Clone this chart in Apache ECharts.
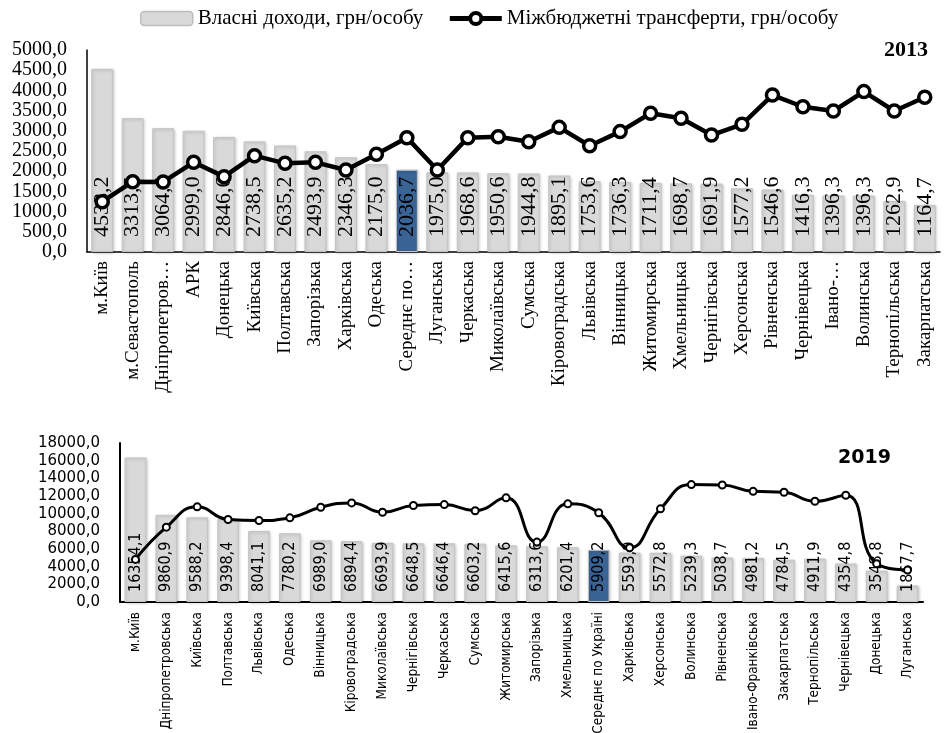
<!DOCTYPE html>
<html>
<head>
<meta charset="utf-8">
<script src="https://cdn.jsdelivr.net/npm/echarts@6/dist/echarts.min.js"></script>
<style>
html,body{margin:0;padding:0;background:#fff;}
#chart{width:945px;height:733px;}
</style>
</head>
<body>
<div id="chart"></div>
<script>
var seriesNames = ['Власні доходи, грн/особу', 'Міжбюджетні трансферти, грн/особу'];

var cats2013 = ['м.Київ','м.Севастополь','Дніпропетров…','АРК','Донецька','Київська','Полтавська','Запорізька','Харківська','Одеська','Середнє по…','Луганська','Черкаська','Миколаївська','Сумська','Кіровоградська','Львівська','Вінницька','Житомирська','Хмельницька','Чернігівська','Херсонська','Рівненська','Чернівецька','Івано-…','Волинська','Тернопільська','Закарпатська'];
var own2013 = [4533.2,3313.5,3064.4,2999.0,2846.6,2738.5,2635.2,2493.9,2346.3,2175.0,2036.7,1975.0,1968.6,1950.6,1944.8,1895.1,1753.6,1736.3,1711.4,1698.7,1691.9,1577.2,1546.6,1416.3,1396.3,1396.3,1262.9,1164.7];
var transfers2013 = [1245,1740,1735,2220,1865,2385,2195,2220,2030,2420,2830,2030,2830,2855,2730,3085,2630,2980,3435,3310,2895,3160,3885,3595,3490,3970,3490,3830];

var cats2019 = ['м.Київ','Дніпропетровська','Київська','Полтавська','Львівська','Одеська','Вінницька','Кіровоградська','Миколаївська','Чернігівська','Черкаська','Сумська','Житомирська','Запорізька','Хмельницька','Середнє по Україні','Харківська','Херсонська','Волинська','Рівненська','Івано-Франківська','Закарпатська','Тернопільська','Чернівецька','Донецька','Луганська'];
var own2019 = [16354.1,9860.9,9588.2,9398.4,8041.1,7780.2,6989.0,6894.4,6693.9,6648.5,6646.4,6603.2,6415.6,6313.6,6201.4,5909.2,5593.9,5572.8,5239.3,5038.7,4981.2,4784.5,4911.9,4354.8,3548.8,1867.7];
var transfers2019 = [4820,8470,10770,9340,9230,9530,10730,11220,10160,10920,11030,10330,11790,6780,11110,10100,6140,10550,13290,13250,12530,12420,11400,12080,4340,3610];

var avgPrefix = 'Середнє';
var years = ['2013', '2019'];

function fmt(v){ return Number(v).toFixed(1).replace('.', ','); }
function barColor(cats){
  return function(p){ return cats[p.dataIndex].indexOf(avgPrefix) === 0 ? '#3a6496' : '#d9d9d9'; };
}

var serif = "'Liberation Serif','Times New Roman',serif";
var narrow = "'Liberation Sans Narrow','DejaVu Sans Condensed',sans-serif";
var sans = "'DejaVu Sans',Verdana,sans-serif";

var chart = echarts.init(document.getElementById('chart'));
chart.setOption({
  animation: false,
  backgroundColor: '#fff',
  legend: {
    top: 3, left: 135,
    itemWidth: 52, itemHeight: 14, itemGap: 24,
    textStyle: { fontFamily: serif, fontSize: 21, color: '#000' },
    data: [
      { name: seriesNames[0], itemStyle: { color: '#d9d9d9', borderColor: '#bdbdbd', borderWidth: 1.5 } },
      { name: seriesNames[1], itemStyle: { color: '#fff', borderColor: '#000', borderWidth: 4 }, lineStyle: { color: '#000', width: 5 } }
    ]
  },
  title: [
    { text: years[0], right: 12, top: 34, textStyle: { fontFamily: serif, fontSize: 22, fontWeight: 'bold', color: '#000' } },
    { text: years[1], left: 833, top: 444, textStyle: { fontFamily: sans, fontSize: 19, fontWeight: 'bold', color: '#000' } }
  ],
  grid: [
    { left: 87, top: 50, width: 853, height: 202, containLabel: false, outerBoundsMode: 'none' },
    { left: 120, top: 443, width: 803, height: 159, containLabel: false, outerBoundsMode: 'none' }
  ],
  xAxis: [
    { type: 'category', gridIndex: 0, data: cats2013,
      axisLine: { lineStyle: { color: '#000', width: 1.5 } }, axisTick: { show: false },
      axisLabel: { rotate: 90, interval: 0, margin: 9, color: '#000', fontFamily: serif, fontSize: 19 } },
    { type: 'category', gridIndex: 1, data: cats2019,
      axisLine: { lineStyle: { color: '#000', width: 2 } }, axisTick: { show: false },
      axisLabel: { rotate: 90, interval: 0, margin: 10, color: '#000', fontFamily: narrow, fontSize: 13.5 } }
  ],
  yAxis: [
    { type: 'value', gridIndex: 0, min: 0, max: 5000, interval: 500,
      axisLine: { show: true, lineStyle: { color: '#000', width: 1.5 } }, axisTick: { show: false },
      splitLine: { show: false },
      axisLabel: { formatter: fmt, margin: 20, color: '#000', fontFamily: serif, fontSize: 20 } },
    { type: 'value', gridIndex: 1, min: 0, max: 18000, interval: 2000,
      axisLine: { show: true, lineStyle: { color: '#000', width: 2 } }, axisTick: { show: false },
      splitLine: { show: false },
      axisLabel: { formatter: fmt, margin: 20, color: '#000', fontFamily: sans, fontSize: 15 } }
  ],
  series: [
    { name: seriesNames[0], type: 'bar', xAxisIndex: 0, yAxisIndex: 0, data: own2013, z: 2,
      barCategoryGap: '28%',
      itemStyle: { color: barColor(cats2013), borderColor: '#c4c4c4', borderWidth: 1,
        shadowBlur: 3, shadowColor: 'rgba(0,0,0,0.2)', shadowOffsetX: 1, shadowOffsetY: 1 },
      label: { show: true, position: 'insideBottom', distance: 15, rotate: 90, align: 'left', verticalAlign: 'middle',
        formatter: function(p){ return fmt(p.value); }, color: '#000', fontFamily: serif, fontSize: 22 } },
    { name: seriesNames[1], type: 'line', xAxisIndex: 0, yAxisIndex: 0, data: transfers2013, z: 5,
      symbol: 'circle', symbolSize: 12,
      lineStyle: { color: '#000', width: 4.5 },
      itemStyle: { color: '#fff', borderColor: '#000', borderWidth: 3.5 } },
    { name: seriesNames[0], type: 'bar', xAxisIndex: 1, yAxisIndex: 1, data: own2019, z: 2,
      barCategoryGap: '30%',
      itemStyle: { color: barColor(cats2019), borderColor: '#c4c4c4', borderWidth: 1,
        shadowBlur: 3, shadowColor: 'rgba(0,0,0,0.2)', shadowOffsetX: 1, shadowOffsetY: 1 },
      label: { show: true, position: 'insideBottom', distance: 10, rotate: 90, align: 'left', verticalAlign: 'middle',
        formatter: function(p){ return fmt(p.value); }, color: '#000', fontFamily: narrow, fontSize: 16 } },
    { name: seriesNames[1], type: 'line', xAxisIndex: 1, yAxisIndex: 1, data: transfers2019, z: 5,
      smooth: true, symbol: 'circle', symbolSize: 7,
      lineStyle: { color: '#000', width: 3 },
      itemStyle: { color: '#fff', borderColor: '#000', borderWidth: 2 } }
  ]
});
</script>
</body>
</html>
